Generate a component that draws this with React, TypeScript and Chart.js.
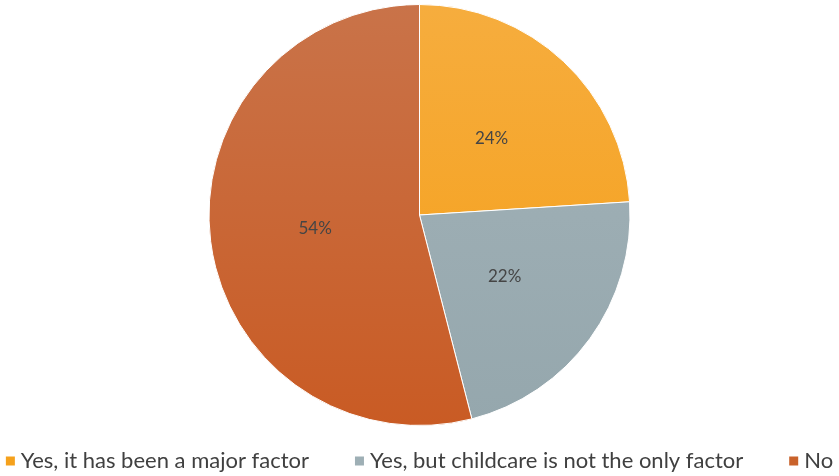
import React, { useEffect, useRef } from "react";
import { Chart, registerables } from "chart.js";

Chart.register(...registerables);

const categories = [
  "Yes, it has been a major factor",
  "Yes, but childcare is not the only factor",
  "No",
];
const values = [24, 22, 54];
const topColors = ["#F6AD3E", "#A3B3B9", "#C97349"];
const bottomColors = ["#F59E16", "#95A7AD", "#C95B24"];
const legendColors = ["#F5A11C", "#9EAFB5", "#C9622B"];

const sliceLabels = {
  id: "sliceLabels",
  afterDatasetsDraw(chart: any) {
    const ctx = chart.ctx;
    const meta = chart.getDatasetMeta(0);
    ctx.save();
    ctx.font = "17px Lato";
    ctx.fillStyle = "#454545";
    ctx.textAlign = "center";
    ctx.textBaseline = "middle";
    meta.data.forEach((arc: any, i: number) => {
      const { x, y, startAngle, endAngle, outerRadius } = arc.getProps(
        ["x", "y", "startAngle", "endAngle", "outerRadius"],
        true
      );
      const mid = (startAngle + endAngle) / 2;
      const r = outerRadius * 0.5;
      ctx.fillText(values[i] + "%", x + Math.cos(mid) * r, y + Math.sin(mid) * r);
    });
    ctx.restore();
  },
};

const bottomLegend = {
  id: "bottomLegend",
  afterDraw(chart: any) {
    const ctx = chart.ctx;
    const box = 9;
    const textGap = 6;
    const itemGap = 46;
    ctx.save();
    ctx.font = "22px Lato";
    ctx.textBaseline = "middle";
    ctx.textAlign = "left";
    const widths = categories.map((t) => box + textGap + ctx.measureText(t).width);
    const total = widths.reduce((a, b) => a + b, 0) + itemGap * (categories.length - 1);
    let x = (chart.width - total) / 2;
    const y = chart.chartArea.bottom + 35;
    categories.forEach((t, i) => {
      ctx.fillStyle = legendColors[i];
      ctx.fillRect(x, y - box / 2, box, box);
      ctx.fillStyle = "#404040";
      ctx.fillText(t, x + box + textGap, y);
      x += widths[i] + itemGap;
    });
    ctx.restore();
  },
};

export default function App() {
  const ref = useRef<HTMLCanvasElement>(null);
  useEffect(() => {
    document.body.style.margin = "0";
    const chart = new Chart(ref.current!, {
      type: "pie",
      data: {
        labels: categories,
        datasets: [
          {
            data: values,
            backgroundColor: (c: any) => {
              const area = c.chart.chartArea;
              const i = c.dataIndex;
              if (!area) return legendColors[i];
              const g = c.chart.ctx.createLinearGradient(0, area.top, 0, area.bottom);
              g.addColorStop(0, topColors[i]);
              g.addColorStop(1, bottomColors[i]);
              return g;
            },
            borderColor: "#FFFFFF",
            borderWidth: 1,
          },
        ],
      },
      options: {
        responsive: false,
        animation: false,
        layout: { padding: { top: 4, bottom: 50, left: 0, right: 0 } },
        plugins: {
          tooltip: { enabled: false },
          legend: { display: false },
        },
      },
      plugins: [sliceLabels, bottomLegend],
    });
    return () => chart.destroy();
  }, []);
  return (
    <div style={{ width: 839, height: 476 }}>
      <canvas ref={ref} width={839} height={476} />
    </div>
  );
}
